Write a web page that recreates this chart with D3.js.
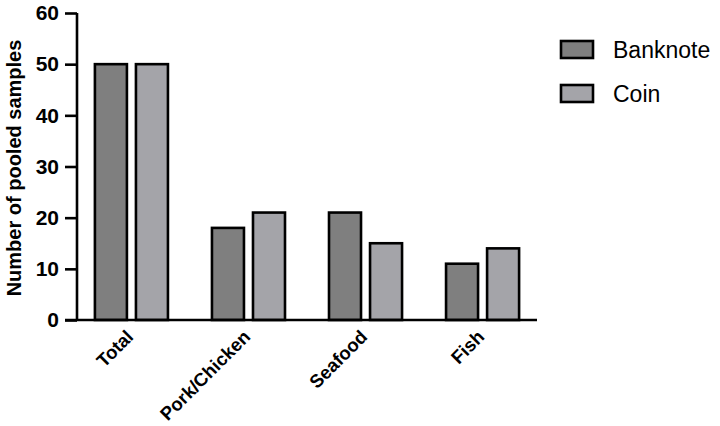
<!DOCTYPE html>
<html>
<head>
<meta charset="utf-8">
<script src="https://cdn.jsdelivr.net/npm/d3@7"></script>
<style>
  body { margin: 0; background: #fff; }
  svg { font-family: 'Liberation Sans', Arial, sans-serif; }
</style>
</head>
<body>
<div id="chart"></div>
<script>
// Data
const categories = ['Total', 'Pork/Chicken', 'Seafood', 'Fish'];
const seriesNames = ['Banknote', 'Coin'];
const banknote = [50, 18, 21, 11];
const coin = [50, 21, 15, 14];
const yTicks = [0, 10, 20, 30, 40, 50, 60];

const colors = { Banknote: '#7f7f7f', Coin: '#a4a4a9' };

const width = 720;
const height = 426;
const margin = { top: 13, right: 183, bottom: 106, left: 77 };

const svg = d3.select('#chart').append('svg')
    .attr('width', width)
    .attr('height', height);

const rows = categories.map((c, i) => ({ category: c, Banknote: banknote[i], Coin: coin[i] }));

// Scales
const x0 = d3.scaleBand()
    .domain(categories)
    .range([margin.left, width - margin.right])
    .paddingInner(0.376)
    .paddingOuter(0.153);

const x1 = d3.scaleBand()
    .domain(seriesNames)
    .range([0, x0.bandwidth()])
    .paddingInner(0.22);

const y = d3.scaleLinear()
    .domain([0, 60])
    .range([height - margin.bottom, margin.top]);

// Bars
const groups = svg.selectAll('g.group')
    .data(rows)
    .enter().append('g')
    .attr('class', 'group')
    .attr('transform', d => `translate(${x0(d.category)},0)`);

groups.selectAll('rect')
    .data(d => seriesNames.map(s => ({ key: s, value: d[s] })))
    .enter().append('rect')
    .attr('x', d => x1(d.key))
    .attr('y', d => y(d.value))
    .attr('width', x1.bandwidth())
    .attr('height', d => y(0) - y(d.value))
    .attr('fill', d => colors[d.key])
    .attr('stroke', '#000')
    .attr('stroke-width', 2.6);

// Y axis
const yAxis = svg.append('g')
    .attr('transform', `translate(${margin.left},0)`)
    .call(d3.axisLeft(y).tickValues(yTicks).tickSize(12).tickPadding(6));

yAxis.select('.domain').attr('d', `M0,${margin.top}V${y(0)}`).attr('stroke-width', 2.6);
yAxis.selectAll('.tick line').attr('stroke-width', 2.6);
yAxis.selectAll('.tick text')
    .style('font-size', '21px')
    .style('font-weight', 'bold')
    .attr('fill', '#000');

// X axis
const xAxis = svg.append('g')
    .attr('transform', `translate(0,${y(0)})`)
    .call(d3.axisBottom(x0).tickSize(0).tickSizeOuter(0));

xAxis.select('.domain')
    .attr('d', `M${margin.left - 12},0H${width - margin.right}`)
    .attr('stroke-width', 2.6);

xAxis.selectAll('.tick text')
    .style('font-size', '18.5px')
    .style('font-weight', 'bold')
    .attr('fill', '#000')
    .style('text-anchor', 'end')
    .attr('y', 0)
    .attr('dy', 0)
    .attr('transform', 'translate(3,18) rotate(-45)');

// Y axis title
svg.append('text')
    .attr('transform', 'rotate(-90)')
    .attr('x', -168)
    .attr('y', 21)
    .style('text-anchor', 'middle')
    .style('font-size', '20px')
    .style('font-weight', 'bold')
    .text('Number of pooled samples');

// Legend
const legend = svg.append('g')
    .attr('transform', 'translate(561,41)');

seriesNames.forEach((s, i) => {
    legend.append('rect')
        .attr('x', 0)
        .attr('y', i * 44)
        .attr('width', 32)
        .attr('height', 17)
        .attr('fill', colors[s])
        .attr('stroke', '#000')
        .attr('stroke-width', 2.6);

    legend.append('text')
        .attr('x', 52)
        .attr('y', i * 44 + 17)
        .style('font-size', '23px')
        .text(s);
});
</script>
</body>
</html>
